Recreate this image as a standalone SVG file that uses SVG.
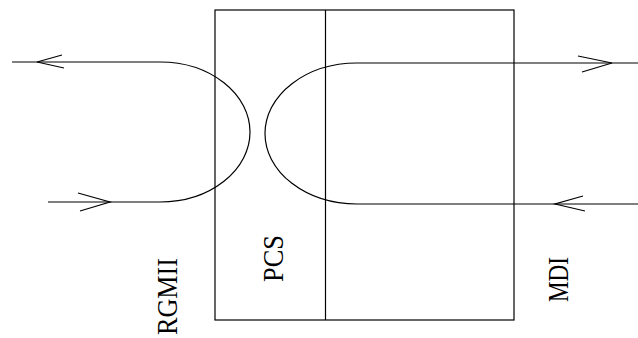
<svg xmlns="http://www.w3.org/2000/svg" width="638" height="338" viewBox="0 0 638 338">
<style>
.ln{fill:none;stroke:#000;stroke-width:1.2}
.t{font-family:"Liberation Serif","DejaVu Serif",serif;font-size:30px;fill:#000}
</style>
<rect width="638" height="338" fill="#fff"/>
<g id="box">
<rect class="ln" x="215" y="10" width="299" height="310"/>
<line class="ln" x1="325.5" y1="10" x2="325.5" y2="320"/>
</g>
<g id="labels">
<text class="t" transform="translate(177,296.5) rotate(-90)" text-anchor="middle" textLength="77" lengthAdjust="spacingAndGlyphs">RGMII</text>
<text class="t" transform="translate(283,258.5) rotate(-90)" text-anchor="middle" textLength="47" lengthAdjust="spacingAndGlyphs">PCS</text>
<text class="t" transform="translate(568,279.5) rotate(-90)" text-anchor="middle" textLength="45" lengthAdjust="spacingAndGlyphs">MDI</text>
</g>
<g id="connectors">
<path class="ln" d="M12,62 H160 A90,70 0 0 1 160,202 H48"/>
<path class="ln" d="M62,55 L37,62 L64,68"/>
<path class="ln" d="M78,193 L110,202 L80,211"/>
<path class="ln" d="M638,63 H357 A92,70.5 0 0 0 357,204 H638"/>
<path class="ln" d="M578,56 L612,63 L582,72"/>
<path class="ln" d="M583,196 L555,204 L585,211"/>
</g>
</svg>
